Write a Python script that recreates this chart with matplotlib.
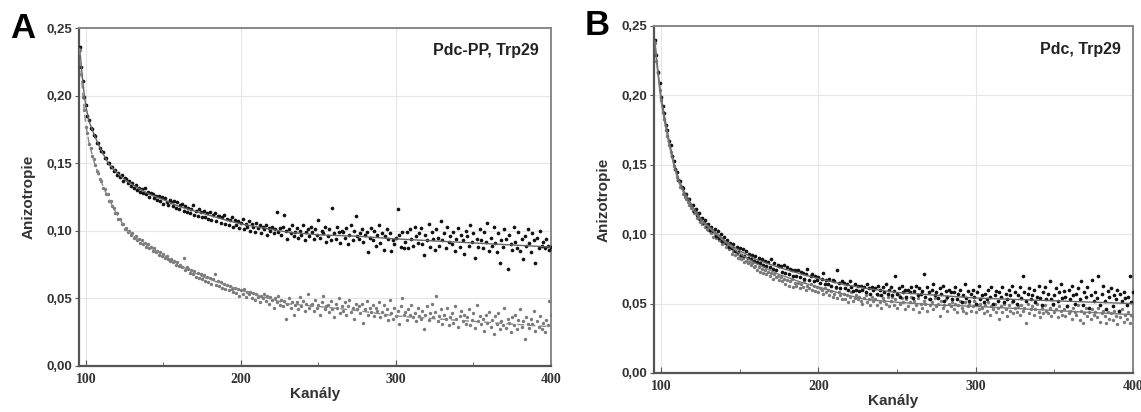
import numpy as np
import matplotlib
matplotlib.use("Agg")
import matplotlib.pyplot as plt
from matplotlib.ticker import FuncFormatter, MultipleLocator

# channel numbers of the measured points
kanaly = np.arange(96, 401)

# panel A, Pdc-PP, Trp29 (upper black points)
a_black = [
    .236, .221, .211, .199, .193, .185, .182, .176, .175, .171,
    .170, .165, .165, .161, .159, .158, .154, .154, .150, .150,
    .147, .147, .144, .145, .141, .143, .140, .141, .137, .139,
    .138, .135, .137, .133, .135, .132, .134, .130, .132, .129,
    .131, .128, .132, .127, .129, .125, .128, .127, .124, .126,
    .123, .126, .122, .125, .120, .124, .121, .119, .123, .121,
    .118, .122, .117, .121, .116, .119, .120, .115, .118, .114,
    .117, .113, .116, .119, .112, .115, .111, .116, .114, .110,
    .115, .110, .113, .109, .114, .108, .112, .113, .107, .111,
    .111, .106, .110, .112, .105, .109, .104, .108, .110, .103,
    .108, .104, .107, .102, .106, .109, .101, .105, .103, .107,
    .100, .105, .103, .099, .106, .102, .104, .098, .103, .101,
    .104, .097, .102, .100, .103, .098, .101, .114, .099, .102,
    .097, .103, .112, .100, .094, .101, .098, .104, .096, .099,
    .102, .095, .100, .097, .104, .093, .099, .101, .096, .103,
    .099, .094, .101, .097, .108, .095, .100, .098, .103, .092,
    .096, .101, .093, .117, .098, .094, .103, .099, .091, .100,
    .099, .095, .102, .090, .097, .104, .093, .100, .111, .096,
    .094, .098, .101, .092, .097, .099, .084, .095, .102, .093,
    .100, .089, .097, .104, .091, .098, .086, .096, .101, .094,
    .098, .085, .093, .090, .095, .116, .097, .088, .099, .087,
    .092, .099, .087, .101, .094, .089, .103, .096, .091, .098,
    .102, .090, .082, .097, .093, .105, .088, .099, .094, .086,
    .101, .095, .089, .107, .093, .098, .087, .103, .092, .096,
    .090, .099, .085, .094, .102, .088, .097, .093, .083, .100,
    .096, .089, .104, .092, .098, .080, .094, .088, .101, .093,
    .087, .099, .092, .106, .085, .095, .089, .103, .091, .084,
    .098, .076, .093, .088, .101, .094, .072, .097, .090, .086,
    .103, .092, .087, .099, .085, .094, .079, .096, .089, .101,
    .091, .084, .098, .093, .076, .095, .087, .100, .089, .092,
    .087, .094, .089, .086, .088,
]

# panel A, lower gray points
a_gray = [
    .234, .216, .199, .189, .177, .172, .164, .161, .155, .153,
    .149, .144, .143, .138, .137, .132, .131, .127, .127, .122,
    .122, .118, .117, .113, .113, .109, .109, .105, .105, .101,
    .102, .099, .100, .097, .098, .095, .096, .093, .094, .091,
    .093, .090, .091, .088, .090, .087, .088, .085, .087, .084,
    .085, .082, .084, .081, .083, .080, .081, .079, .078, .079,
    .077, .078, .075, .077, .074, .075, .073, .080, .071, .073,
    .072, .069, .071, .068, .070, .066, .069, .065, .068, .064,
    .067, .063, .066, .062, .065, .061, .064, .068, .060, .063,
    .059, .062, .058, .061, .057, .060, .056, .059, .057, .055,
    .058, .054, .057, .052, .056, .053, .057, .051, .055, .053,
    .055, .050, .054, .049, .053, .051, .047, .052, .050, .053,
    .048, .052, .046, .051, .049, .043, .050, .047, .052, .045,
    .049, .044, .048, .035, .046, .050, .043, .047, .038, .045,
    .047, .042, .051, .044, .048, .041, .046, .053, .043, .045,
    .046, .041, .049, .043, .045, .038, .047, .052, .042, .044,
    .045, .040, .048, .042, .036, .046, .043, .050, .039, .044,
    .041, .047, .038, .044, .049, .040, .043, .035, .046, .042,
    .044, .039, .046, .032, .042, .048, .038, .043, .040, .045,
    .037, .043, .041, .047, .036, .040, .045, .038, .042, .034,
    .049, .039, .035, .043, .037, .041, .031, .044, .050, .038,
    .040, .034, .042, .038, .045, .036, .039, .033, .043, .037,
    .035, .041, .027, .038, .044, .034, .039, .046, .036, .040,
    .052, .033, .037, .042, .031, .038, .035, .043, .030, .036,
    .039, .032, .044, .035, .029, .037, .041, .033, .038, .031,
    .036, .042, .030, .034, .039, .028, .045, .033, .037, .031,
    .035, .026, .038, .032, .040, .029, .034, .024, .037, .031,
    .039, .027, .033, .030, .043, .028, .035, .032, .025, .036,
    .030, .038, .027, .034, .042, .029, .033, .020, .036, .031,
    .028, .035, .031, .041, .026, .033, .029, .037, .027, .032,
    .025, .034, .030, .048, .038,
]

# panel B, Pdc, Trp29 (black points)
b_black = [
    .240, .229, .217, .209, .199, .192, .187, .179, .175, .167,
    .164, .156, .153, .147, .145, .139, .138, .134, .133, .129,
    .129, .125, .125, .121, .121, .117, .118, .114, .115, .111,
    .112, .108, .110, .106, .107, .103, .105, .102, .104, .099,
    .102, .097, .100, .095, .098, .094, .096, .091, .094, .090,
    .093, .088, .091, .087, .090, .085, .089, .084, .088, .083,
    .086, .082, .085, .081, .084, .080, .083, .079, .082, .078,
    .081, .077, .080, .076, .082, .075, .079, .074, .078, .077,
    .077, .073, .078, .072, .076, .071, .075, .074, .070, .074,
    .070, .074, .069, .073, .072, .068, .071, .075, .067, .070,
    .071, .066, .070, .067, .069, .065, .068, .072, .064, .067,
    .064, .068, .063, .067, .066, .062, .074, .065, .061, .066,
    .065, .061, .064, .060, .066, .062, .059, .064, .060, .063,
    .059, .063, .060, .062, .058, .064, .061, .057, .062, .060,
    .061, .057, .063, .060, .056, .062, .058, .064, .057, .060,
    .062, .056, .059, .070, .057, .061, .055, .063, .058, .060,
    .055, .060, .058, .062, .054, .059, .063, .056, .061, .057,
    .059, .071, .055, .062, .058, .053, .060, .064, .056, .058,
    .054, .061, .057, .063, .052, .059, .055, .060, .058, .053,
    .058, .062, .053, .057, .060, .051, .056, .064, .054, .059,
    .052, .057, .060, .055, .050, .058, .063, .053, .056, .051,
    .057, .053, .060, .055, .062, .050, .056, .059, .052, .058,
    .055, .062, .051, .057, .053, .060, .056, .063, .052, .058,
    .050, .056, .062, .054, .070, .058, .052, .057, .061, .053,
    .056, .060, .051, .055, .063, .054, .049, .058, .062, .053,
    .057, .066, .053, .050, .056, .061, .052, .058, .064, .054,
    .059, .055, .048, .060, .053, .063, .056, .050, .057, .061,
    .053, .066, .049, .058, .055, .062, .047, .056, .067, .052,
    .058, .054, .070, .049, .057, .063, .052, .046, .059, .055,
    .061, .048, .056, .053, .060, .045, .057, .052, .058, .054,
    .049, .055, .070, .051, .058,
]

# panel B, gray points
b_gray = [
    .238, .225, .216, .204, .197, .188, .183, .175, .171, .164,
    .159, .156, .149, .147, .141, .139, .134, .133, .129, .127,
    .125, .123, .121, .119, .117, .115, .116, .112, .111, .109,
    .107, .109, .105, .104, .103, .102, .101, .098, .100, .097,
    .097, .096, .095, .093, .094, .091, .092, .089, .090, .086,
    .088, .085, .086, .083, .084, .082, .083, .080, .081, .079,
    .080, .078, .079, .076, .077, .074, .076, .073, .075, .072,
    .074, .071, .073, .070, .072, .068, .071, .069, .070, .067,
    .069, .066, .068, .064, .067, .063, .066, .068, .062, .065,
    .063, .065, .061, .064, .062, .066, .060, .063, .061, .064,
    .060, .063, .059, .062, .058, .061, .060, .057, .061, .058,
    .060, .056, .059, .055, .057, .061, .054, .058, .056, .053,
    .057, .053, .056, .051, .055, .058, .052, .054, .056, .053,
    .055, .052, .050, .054, .056, .051, .053, .049, .055, .052,
    .053, .049, .056, .051, .047, .054, .052, .050, .055, .048,
    .052, .055, .049, .053, .047, .056, .050, .054, .051, .046,
    .053, .048, .051, .055, .046, .052, .049, .054, .044, .050,
    .047, .052, .050, .045, .053, .049, .051, .046, .054, .048,
    .050, .041, .052, .047, .049, .053, .045, .050, .048, .051,
    .046, .050, .044, .049, .052, .047, .045, .051, .043, .048,
    .050, .045, .048, .052, .044, .049, .046, .050, .047, .043,
    .049, .045, .051, .042, .048, .046, .050, .044, .047, .039,
    .048, .044, .050, .046, .041, .049, .045, .051, .043, .047,
    .044, .048, .042, .049, .045, .047, .036, .050, .043, .046,
    .048, .042, .046, .050, .044, .040, .047, .043, .049, .045,
    .043, .047, .041, .049, .044, .046, .040, .048, .045, .042,
    .046, .041, .048, .043, .045, .039, .047, .044, .042, .049,
    .038, .045, .036, .043, .047, .041, .044, .039, .046, .042,
    .044, .040, .047, .037, .043, .045, .041, .036, .044, .039,
    .043, .038, .045, .041, .035, .044, .040, .046, .037, .042,
    .039, .044, .036, .042, .040,
]

fit_x = [96, 97, 98, 99, 100, 102, 105, 108, 111, 115, 120, 126, 133,
         141, 150, 160, 175, 190, 200, 215, 230, 250, 275, 300, 350, 400]
fit_a_black = [.235, .222, .210, .200, .192, .181, .172, .164, .157, .149,
               .143, .137, .132, .127, .123, .118, .113, .108, .105, .102,
               .099, .097, .096, .094, .091, .088]
fit_a_gray = [.235, .215, .200, .188, .178, .165, .152, .142, .133, .123,
              .112, .101, .094, .088, .082, .075, .066, .060, .056, .051,
              .046, .044, .041, .037, .033, .029]
fit_b_black = [.240, .228, .218, .208, .199, .186, .168, .152, .140, .130,
               .120, .110, .103, .095, .088, .082, .076, .071, .068, .064,
               .061, .058, .056, .054, .052, .050]
fit_b_gray = [.239, .226, .215, .205, .196, .182, .165, .150, .138, .128,
              .118, .109, .102, .094, .086, .079, .071, .065, .062, .057,
              .053, .051, .049, .048, .045, .042]

x_ticks = [100, 200, 300, 400]
y_ticks = [0.0, 0.05, 0.10, 0.15, 0.20, 0.25]


def comma(v, pos):
    return ("%.2f" % v).replace(".", ",")


def style_axes(ax, nazev, pismeno):
    ax.set_xlim(95.5, 400)
    ax.set_ylim(0, 0.25)
    ax.set_xticks(x_ticks)
    ax.set_yticks(y_ticks)
    ax.xaxis.set_minor_locator(MultipleLocator(50))
    ax.yaxis.set_major_formatter(FuncFormatter(comma))
    ax.grid(True, color="#e6e6e6", lw=0.8)
    ax.set_axisbelow(True)
    for s in ["left", "bottom"]:
        ax.spines[s].set_color("#555555")
        ax.spines[s].set_linewidth(1.6)
    for s in ["top", "right"]:
        ax.spines[s].set_color("#888888")
        ax.spines[s].set_linewidth(1.4)
    ax.tick_params(axis="x", which="major", direction="in", length=4,
                   color="#555555", pad=5)
    ax.tick_params(axis="x", which="minor", direction="in", length=3,
                   color="#555555")
    ax.tick_params(axis="y", direction="out", length=3, color="#555555", pad=2)
    for lab in ax.get_xticklabels():
        lab.set_fontfamily("Liberation Serif")
        lab.set_fontweight("bold")
        lab.set_fontsize(10)
        lab.set_color("#333333")
    for lab in ax.get_yticklabels():
        lab.set_fontfamily("Liberation Sans")
        lab.set_fontweight("bold")
        lab.set_fontsize(9.5)
        lab.set_color("#333333")
    ax.set_xlabel("Kanály", fontsize=11, fontweight="bold",
                  family="Liberation Sans", color="#333333", labelpad=1)
    ax.set_ylabel("Anizotropie", fontsize=11, fontweight="bold",
                  family="Liberation Sans", color="#333333", labelpad=8)
    ax.text(0.975, 0.955, nazev, transform=ax.transAxes, ha="right", va="top",
            fontsize=11.5, fontweight="bold", family="Liberation Sans",
            color="#222222")
    ax.text(-0.145, 1.0, pismeno, transform=ax.transAxes, ha="left",
            va="center", fontsize=25, fontweight="bold",
            family="Liberation Sans", color="black")


fig = plt.figure(figsize=(11.41, 4.12), dpi=100)
ax1 = fig.add_axes([0.0692, 0.1117, 0.4137, 0.8203])
ax2 = fig.add_axes([0.5732, 0.0947, 0.4198, 0.8422])

ax1.scatter(kanaly, a_gray, s=6, color="#7a7a7a", lw=0, zorder=3)
ax1.scatter(kanaly, a_black, s=7, color="#111111", lw=0, zorder=3)
ax1.plot(fit_x, fit_a_black, color="#666666", lw=1.0, zorder=4)
ax1.plot(fit_x, fit_a_gray, color="#888888", lw=1.0, ls=(0, (5, 3)), zorder=4)
style_axes(ax1, "Pdc-PP, Trp29", "A")

ax2.scatter(kanaly, b_gray, s=6, color="#7a7a7a", lw=0, zorder=3)
ax2.scatter(kanaly, b_black, s=7, color="#111111", lw=0, zorder=3)
ax2.plot(fit_x, fit_b_black, color="#666666", lw=1.0, zorder=4)
ax2.plot(fit_x, fit_b_gray, color="#777777", lw=1.0, zorder=4)
style_axes(ax2, "Pdc, Trp29", "B")

fig.savefig("out.png", dpi=100)
